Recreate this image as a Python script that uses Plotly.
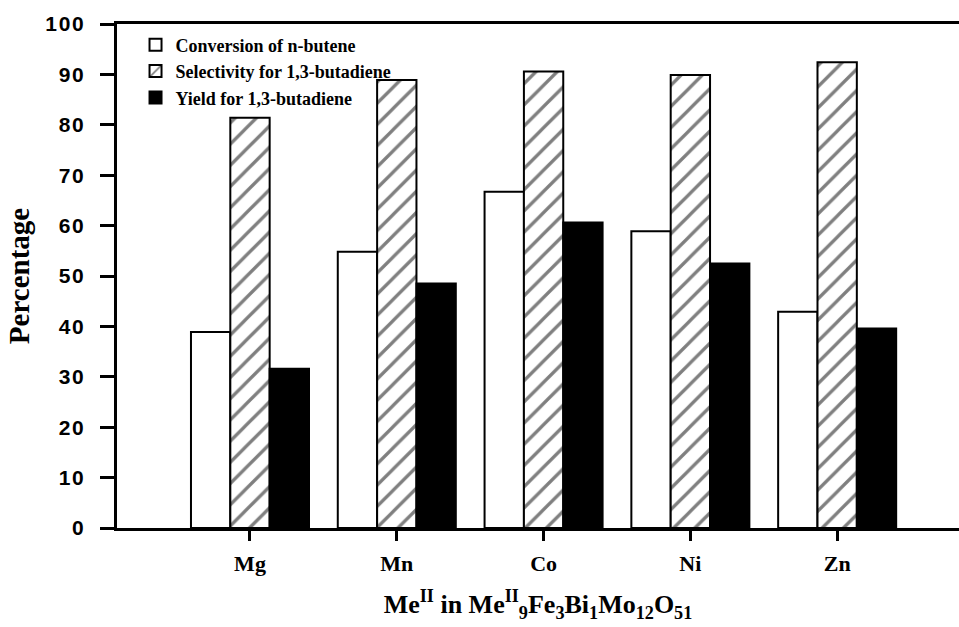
import plotly.graph_objects as go

categories = ["Mg", "Mn", "Co", "Ni", "Zn"]
conversion = [38.9, 54.8, 66.7, 58.9, 42.9]
selectivity = [81.4, 88.9, 90.6, 89.9, 92.4]
yield_bd = [31.6, 48.5, 60.6, 52.5, 39.6]
y_ticks = [0, 10, 20, 30, 40, 50, 60, 70, 80, 90, 100]
y_ticktext = ["\u200a".join(str(v)) for v in y_ticks]

serif = "Liberation Serif, Times New Roman, serif"
sans = "Liberation Sans, Arial, sans-serif"

fig = go.Figure()
fig.add_trace(go.Bar(
    x=categories, y=conversion, name="Conversion of n-butene",
    marker=dict(color="white", line=dict(color="black", width=2)),
))
fig.add_trace(go.Bar(
    x=categories, y=selectivity, name="Selectivity for 1,3-butadiene",
    marker=dict(color="white", line=dict(color="black", width=2),
                pattern=dict(shape="/", fgcolor="black", bgcolor="white",
                             size=15, solidity=0.22)),
))
fig.add_trace(go.Bar(
    x=categories, y=yield_bd, name="Yield for 1,3-butadiene",
    marker=dict(color="black", line=dict(color="black", width=2)),
))

fig.update_layout(
    width=959, height=627,
    margin=dict(l=117, r=0, t=24, b=99),
    paper_bgcolor="white", plot_bgcolor="white",
    barmode="group", bargap=0.196, bargroupgap=0,
    showlegend=True,
    legend=dict(x=0.022, y=0.995, xanchor="left", yanchor="top",
                bgcolor="rgba(0,0,0,0)", tracegroupgap=0,
                font=dict(family=serif, size=18, color="black", weight="bold"),
                itemwidth=30),
    xaxis=dict(
        type="category", range=[-0.906, 4.83],
        showline=True, linecolor="black", linewidth=3, mirror=True,
        ticks="outside", ticklen=10, tickwidth=3, tickcolor="black",
        tickfont=dict(family=serif, size=22, color="black", weight="bold"),
        ticklabelstandoff=4,
        showgrid=False, zeroline=False,
        title=dict(
            text="Me<sup>II</sup> in Me<sup>II</sup><sub>9</sub>Fe<sub>3</sub>Bi<sub>1</sub>Mo<sub>12</sub>O<sub>51</sub>",
            font=dict(family=serif, size=26, color="black", weight="bold"),
            standoff=20),
    ),
    yaxis=dict(
        range=[0, 100], tickvals=y_ticks, ticktext=y_ticktext,
        showline=True, linecolor="black", linewidth=3,
        ticks="outside", ticklen=14, tickwidth=3, tickcolor="black",
        tickfont=dict(family=sans, size=21, color="black", weight="bold"),
        ticklabelstandoff=12,
        showgrid=False, zeroline=False,
        title=dict(text="Percentage",
                   font=dict(family=serif, size=29, color="black", weight="bold"),
                   standoff=8),
    ),
)

fig.write_html("out.html")
